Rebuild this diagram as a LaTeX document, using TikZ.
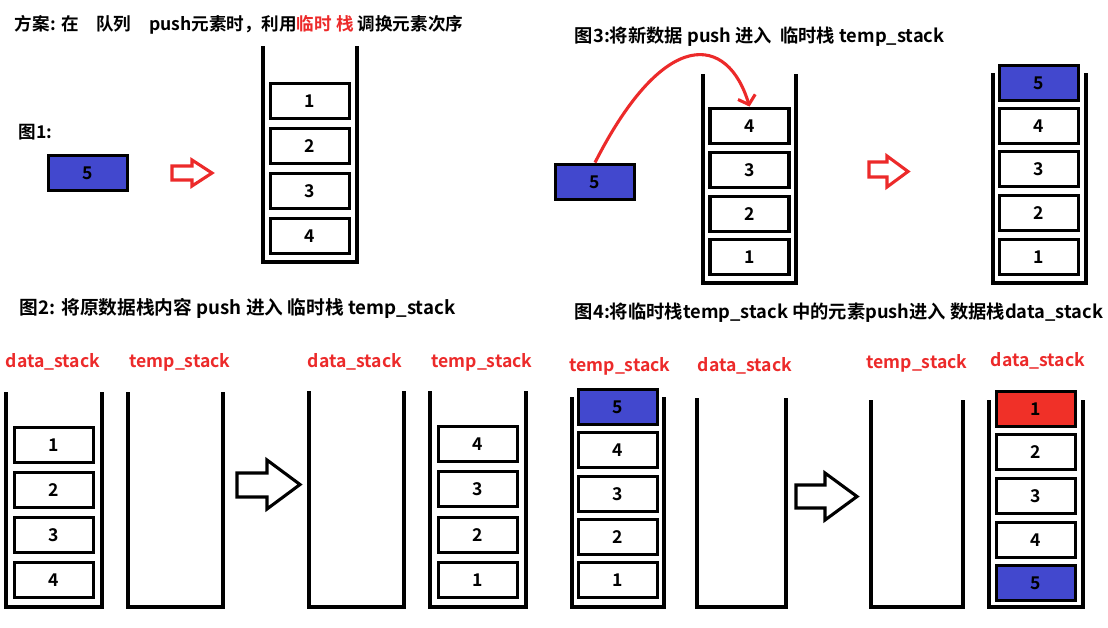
\documentclass[tikz,border=0pt]{standalone}
\usepackage{fontspec}
\setmainfont{Noto Sans CJK SC}[BoldFont={Noto Sans CJK SC Bold}]
\usetikzlibrary{arrows.meta}
\definecolor{cellblue}{RGB}{66,72,206}
\definecolor{cellred}{RGB}{240,48,40}
\definecolor{txtred}{RGB}{236,42,42}

\begin{document}
\begin{tikzpicture}[x=0.025cm,y=-0.025cm,
  font=\fontsize{12.5}{15}\selectfont\bfseries,
  cell/.style={draw,line width=2.6pt,minimum width=1.98cm,minimum height=0.88cm,inner sep=0pt},
  bluecell/.style={cell,fill=cellblue},
  redcell/.style={cell,fill=cellred},
  wall/.style={line width=2.8pt},
  lab/.style={text=txtred},
  hollow/.style={line width=2.2pt,line join=miter}]
\useasboundingbox (0,0) rectangle (1108,627);

% fig 1
\node (t1) at (10,25) [anchor=west]{方案: 在\quad 队列\quad push元素时，利用{\color{txtred}临时\ 栈}\ 调换元素次序};
\node (f1) at (14,132) [anchor=west]{图1:};
\node (n1) at (88,173) [bluecell]{5};
\draw[hollow,txtred] (172,166) -- (192,166) -- (192,160) -- (212,173) -- (192,186) -- (192,180) -- (172,180) -- cycle;
\draw[wall] (263,46) -- (263,262) -- (357,262) -- (357,46);
\foreach \v/\y in {1/101,2/146,3/191,4/236}{
\node (a\v) at (310,\y) [cell]{\v};}

% fig 3
\node (t3) at (570,37) [anchor=west,font=\fontsize{13}{15}\selectfont\bfseries]{图3:将新数据 push 进入\ \ 临时栈 temp\_stack};
\node (n3) at (595,182) [bluecell]{5};
\draw[wall] (703,74) -- (703,283) -- (796,283) -- (796,74);
\foreach \v/\y in {4/126,3/170,2/214,1/257}{
\node (b\v) at (749.5,\y) [cell]{\v};}
\draw[txtred,line width=2.2pt,-{Straight Barb[length=2mm,width=4.5mm]}] (n3.north) .. controls (665,25) and (728,35) .. (b4.north);
\draw[hollow,txtred] (869,162) -- (887,162) -- (887,156) -- (908,171.5) -- (887,187) -- (887,177) -- (869,177) -- cycle;
\draw[wall] (993,73) -- (993,283) -- (1086,283) -- (1086,73);
\foreach \v/\y in {4/126,3/169,2/213,1/257}{
\node (c\v) at (1039,\y) [cell]{\v};}
\node (c5) at (1039,83) [bluecell]{5};

% fig 2
\node (t2) at (15,308) [anchor=west,font=\fontsize{13.3}{15}\selectfont\bfseries]{图2: 将原数据栈内容 push 进入 临时栈 temp\_stack};
\node (l21) at (53,362) [lab]{data\_stack};
\node (l22) at (180,362) [lab]{temp\_stack};
\node (l23) at (355,362) [lab]{data\_stack};
\node (l24) at (482,362) [lab]{temp\_stack};
\foreach \xa/\xb/\yt in {6/102/392,128/223/392,309/404/391,430/526/391}{
\draw[wall] (\xa,\yt) -- (\xa,607) -- (\xb,607) -- (\xb,\yt);}
\foreach \v/\y in {1/445,2/490,3/535,4/580}{
\node (d\v) at (54,\y) [cell]{\v};}
\draw[hollow] (237,473) -- (267,473) -- (267,460) -- (300,484.5) -- (267,509) -- (267,497) -- (237,497) -- cycle;
\foreach \v/\y in {4/444,3/489,2/535,1/580}{
\node (e\v) at (478,\y) [cell]{\v};}

% fig 4
\node (t4) at (570,313) [anchor=west,font=\fontsize{13}{15}\selectfont\bfseries]{图4:将临时栈temp\_stack 中的元素push进入 数据栈data\_stack};
\node (l41) at (620,366) [lab]{temp\_stack};
\node (l42) at (745,366) [lab]{data\_stack};
\node (l43) at (917,363) [lab]{temp\_stack};
\node (l44) at (1038,361) [lab]{data\_stack};
\foreach \xa/\xb/\yt in {572/664/397,697/786/398,871/963/400,989/1083/400}{
\draw[wall] (\xa,\yt) -- (\xa,607) -- (\xb,607) -- (\xb,\yt);}
\node (g5) at (618,407) [bluecell]{5};
\foreach \v/\y in {4/450,3/494,2/537,1/580}{
\node (g\v) at (618,\y) [cell]{\v};}
\draw[hollow] (796,485) -- (825,485) -- (825,473) -- (857,496.5) -- (825,520) -- (825,508) -- (796,508) -- cycle;
\node (h1) at (1036,409) [redcell]{1};
\foreach \v/\y in {2/452,3/496,4/540}{
\node (h\v) at (1036,\y) [cell]{\v};}
\node (h5) at (1036,583) [bluecell]{5};
\end{tikzpicture}
\end{document}
